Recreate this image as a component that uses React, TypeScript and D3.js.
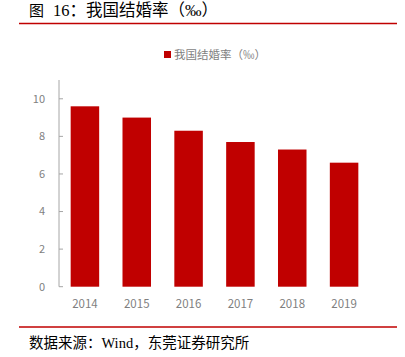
import React from "react";
import * as d3 from "d3";

const years = ["2014", "2015", "2016", "2017", "2018", "2019"];
const rates = [9.6, 9.0, 8.3, 7.7, 7.3, 6.6];
const yTicks = [0, 2, 4, 6, 8, 10];
const titleHead = "图";
const titleText = "16：我国结婚率（‰）";
const legendText = "我国结婚率（‰）";
const sourceText = "数据来源：Wind，东莞证券研究所";

export default function App() {
  const W = 405, H = 357;
  const left = 59, right = 370, top = 80, bottom = 286.7;
  const x = d3.scaleBand().domain(years).range([left, right]).padding(0);
  const y = d3.scaleLinear().domain([0, 11]).range([bottom, top]);
  const bw = x.bandwidth() * 0.55;
  const gray = "#7f7f7f";
  const sans = "'Noto Sans CJK SC', 'DejaVu Sans', sans-serif";
  const serif = "'Liberation Serif', 'Noto Sans CJK SC', serif";
  return (
    <svg width={W} height={H} style={{ position: "absolute", left: 0, top: 0, background: "#fff" }}>
      <text x={29} y={16} fontSize={15} fontFamily={serif} fill="#000">{titleHead}</text>
      <text x={53} y={16} fontSize={16.5} fontFamily={serif} fill="#000">{titleText}</text>
      <line x1={19} x2={397} y1={23.5} y2={23.5} stroke="#c00000" strokeWidth={1.5} />
      <rect x={164} y={51} width={7} height={7} fill="#c00000" />
      <text x={174} y={58.5} fontSize={11.5} fontFamily={sans} fill={gray}>{legendText}</text>
      <line x1={left} x2={left} y1={top} y2={bottom} stroke="#a6a6a6" strokeWidth={1} />
      {yTicks.map((t) => (
        <g key={t}>
          <line x1={left} x2={left + 4} y1={y(t)} y2={y(t)} stroke="#a6a6a6" />
          <text x={45} y={y(t)} dy="0.35em" textAnchor="end" fontSize={11} fontFamily={sans} fill={gray}>{t}</text>
        </g>
      ))}
      {years.map((yr, i) => (
        <g key={yr}>
          <rect
            x={(x(yr) as number) + (x.bandwidth() - bw) / 2}
            y={y(rates[i])}
            width={bw}
            height={bottom - y(rates[i])}
            fill="#c00000"
          />
          <text x={(x(yr) as number) + x.bandwidth() / 2} y={308} textAnchor="middle" fontSize={11.5} fontFamily={sans} fill={gray}>{yr}</text>
        </g>
      ))}
      <line x1={19} x2={397} y1={327} y2={327} stroke="#c00000" strokeWidth={1.5} />
      <text x={29} y={348} fontSize={14.5} fontFamily={serif} fill="#000">{sourceText}</text>
    </svg>
  );
}
